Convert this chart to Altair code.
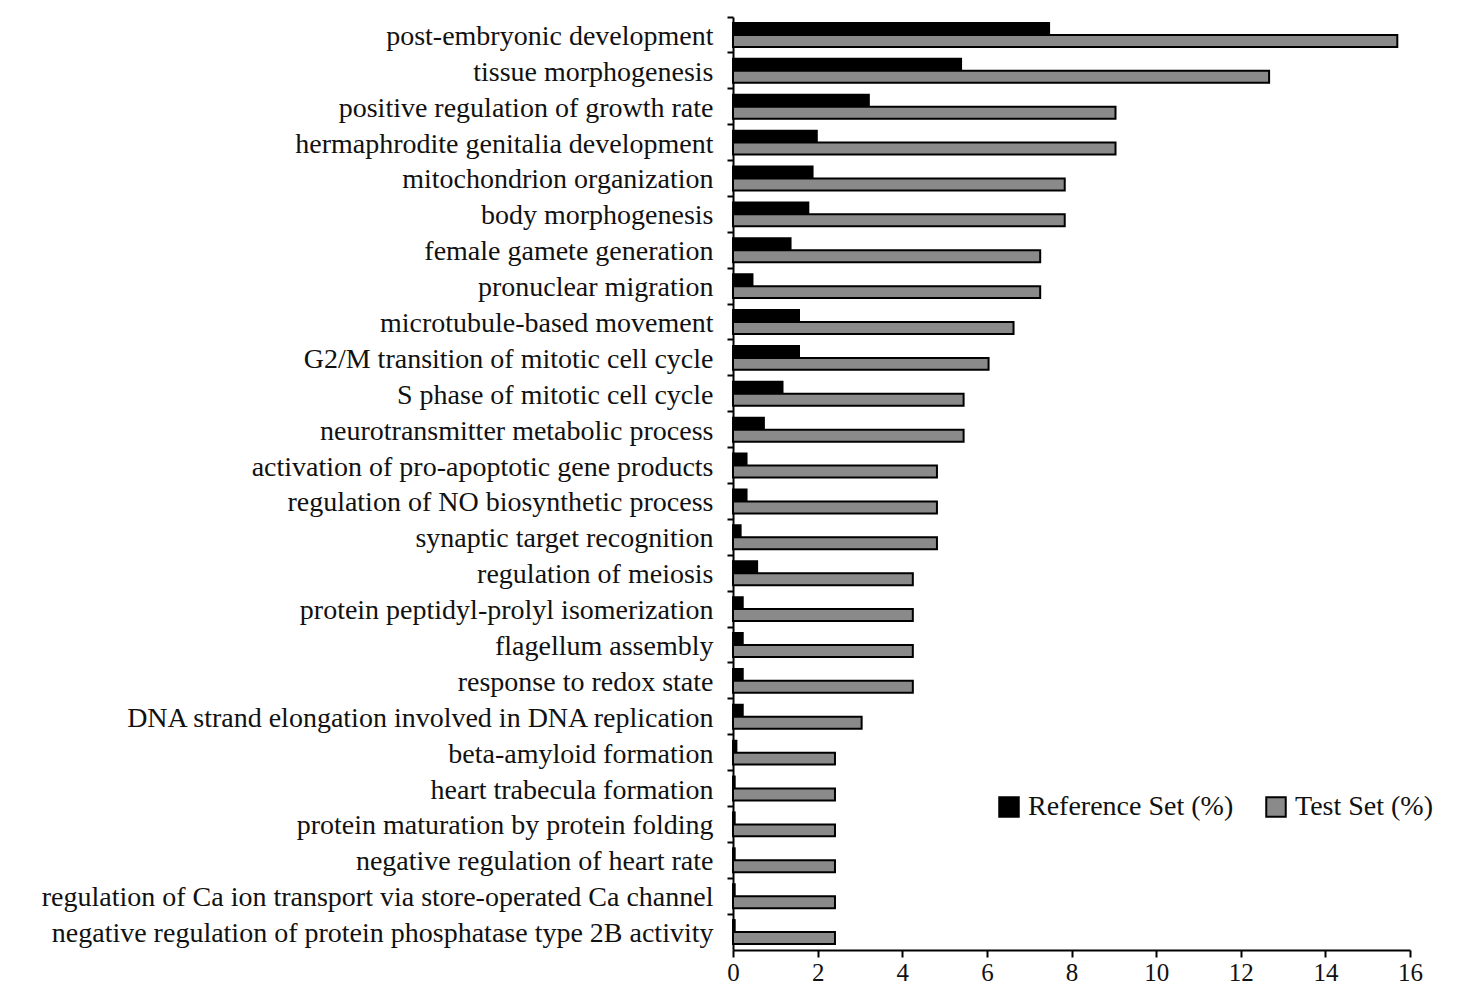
import altair as alt
import pandas as pd

categories = [
    "post-embryonic development",
    "tissue morphogenesis",
    "positive regulation of growth rate",
    "hermaphrodite genitalia development",
    "mitochondrion organization",
    "body morphogenesis",
    "female gamete generation",
    "pronuclear migration",
    "microtubule-based movement",
    "G2/M transition of mitotic cell cycle",
    "S phase of mitotic cell cycle",
    "neurotransmitter metabolic process",
    "activation of pro-apoptotic gene products",
    "regulation of NO biosynthetic process",
    "synaptic target recognition",
    "regulation of meiosis",
    "protein peptidyl-prolyl isomerization",
    "flagellum assembly",
    "response to redox state",
    "DNA strand elongation involved in DNA replication",
    "beta-amyloid formation",
    "heart trabecula formation",
    "protein maturation by protein folding",
    "negative regulation of heart rate",
    "regulation of Ca ion transport via store-operated Ca channel",
    "negative regulation of protein phosphatase type 2B activity",
]
reference_set = [7.47, 5.39, 3.21, 1.98, 1.88, 1.78, 1.36, 0.46, 1.56, 1.56, 1.17, 0.73,
                 0.32, 0.32, 0.18, 0.57, 0.23, 0.23, 0.23, 0.23, 0.08, 0.04, 0.04, 0.04, 0.04, 0.04]
test_set = [15.7, 12.67, 9.04, 9.04, 7.84, 7.84, 7.26, 7.26, 6.63, 6.04, 5.45, 5.45,
            4.82, 4.82, 4.82, 4.25, 4.25, 4.25, 4.25, 3.04, 2.41, 2.41, 2.41, 2.41, 2.41, 2.41]
series = ["Reference Set (%)", "Test Set (%)"]
x_ticks = [0, 2, 4, 6, 8, 10, 12, 14, 16]

rows = []
for c, r, t in zip(categories, reference_set, test_set):
    rows.append({"category": c, "series": series[0], "value": r})
    rows.append({"category": c, "series": series[1], "value": t})
df = pd.DataFrame(rows)

W, H = 677, 933
FONT = "Liberation Serif"

chart = alt.Chart(df).mark_bar(stroke="black", strokeWidth=2).encode(
    x=alt.X("value:Q",
            scale=alt.Scale(domain=[0, 16], nice=False),
            axis=alt.Axis(values=x_ticks, title=None, grid=False, tickSize=7,
                          labelFontSize=25, labelPadding=3, format="d",
                          labelFlush=False)),
    y=alt.Y("category:N", sort=categories,
            scale=alt.Scale(paddingInner=0, paddingOuter=0),
            axis=alt.Axis(title=None, grid=False, bandPosition=0, tickSize=6,
                          labelPadding=14, labelFontSize=28, labelLimit=0,
                          labelOffset=2)),
    yOffset=alt.YOffset("series:N", sort=series,
                        scale=alt.Scale(paddingOuter=0.5, paddingInner=0)),
    color=alt.Color("series:N", sort=series,
                    scale=alt.Scale(domain=series, range=["#000000", "#8a8a8a"]),
                    legend=alt.Legend(title=None, orient="none", direction="horizontal",
                                      legendX=262, legendY=776,
                                      symbolType="square", symbolSize=380,
                                      symbolStrokeColor="black", symbolStrokeWidth=2,
                                      labelFontSize=28, labelFont=FONT, labelColor="#111",
                                      labelLimit=0, columnPadding=28, labelOffset=5)),
).properties(
    width=W, height=H,
    autosize=alt.AutoSizeParams(type="none"),
    padding={"left": 725, "top": 9, "right": 41, "bottom": 40},
).configure_axis(
    labelFont=FONT, labelColor="#111", domainColor="black", domainWidth=2,
    tickColor="black", tickWidth=2,
).configure_view(stroke=None)

chart.save("out.html", embed_options={"renderer": "svg", "actions": False})
